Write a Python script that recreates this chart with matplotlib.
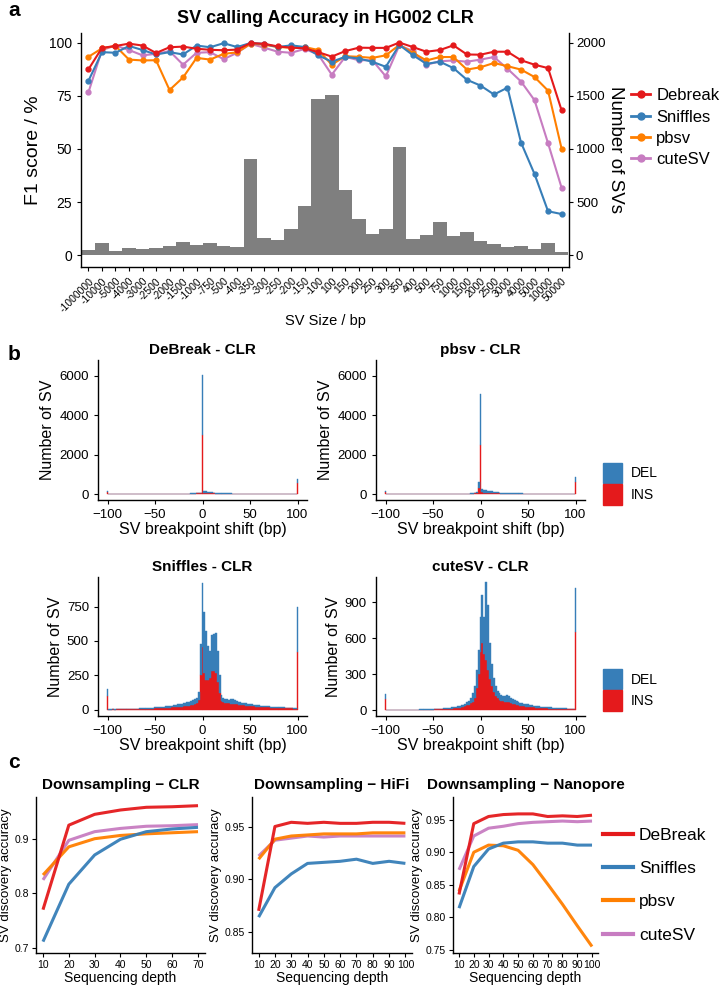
import numpy as np
import matplotlib
matplotlib.use("Agg")
import matplotlib.pyplot as plt
from matplotlib.lines import Line2D
from matplotlib.patches import Patch

plt.rcParams['font.family'] = ['Liberation Sans', 'DejaVu Sans']

W, H = 720, 992

def rect(x0, y0, x1, y1):
    # pixel box (top-left origin) -> figure fraction
    return [x0 / W, 1 - y1 / H, (x1 - x0) / W, (y1 - y0) / H]

RED = '#E41A1C'
BLUE = '#377EB8'
ORANGE = '#FF7F00'
PURPLE = '#C77CC1'

# ---------------- panel a data ----------------
size_labels = ['-1000000', '-10000', '-5000', '-4000', '-3000', '-2500', '-2000', '-1500',
               '-1000', '-750', '-500', '-400', '-350', '-300', '-250', '-200', '-150', '-100',
               '100', '150', '200', '250', '300', '350', '400', '500', '750', '1000', '1500',
               '2000', '2500', '3000', '4000', '5000', '10000', '50000']
sv_counts = [47, 120, 38, 69, 63, 69, 88, 126, 94, 120, 85, 75, 909, 164, 142, 248, 459, 1469,
             1510, 612, 342, 201, 248, 1014, 154, 192, 317, 185, 223, 132, 107, 75, 88, 60, 113, 31]
f1_debreak = [87.4, 97.5, 98.4, 99.5, 98.6, 95.1, 97.8, 98.1, 97.1, 96.6, 96.4, 96.7, 99.8, 99.4,
              98.2, 97.6, 97.3, 95.5, 93.4, 96.0, 97.6, 97.5, 97.5, 100.0, 97.9, 95.7, 96.5, 98.7,
              94.4, 94.3, 95.7, 95.7, 91.7, 89.6, 88.0, 68.2]
f1_sniffles = [82.0, 95.5, 95.2, 98.4, 96.5, 94.4, 95.5, 94.4, 98.6, 97.8, 99.7, 97.9, 99.8, 99.4,
               97.9, 98.7, 97.9, 94.0, 91.0, 93.3, 92.5, 91.0, 88.6, 98.9, 94.1, 90.0, 91.0, 88.0,
               82.5, 79.8, 75.6, 78.8, 53.0, 38.2, 20.7, 19.4]
f1_pbsv = [93.3, 97.3, 98.4, 92.0, 91.6, 91.7, 77.7, 83.6, 92.8, 92.0, 94.7, 95.4, 99.5, 99.0,
           97.9, 97.6, 97.9, 96.5, 89.6, 93.6, 93.3, 92.8, 94.0, 98.9, 95.2, 91.6, 93.2, 93.2,
           87.3, 88.4, 90.4, 88.9, 87.3, 83.8, 77.4, 50.2]
f1_cutesv = [76.6, 96.5, 98.6, 96.5, 94.0, 94.7, 96.0, 89.6, 95.2, 95.5, 92.2, 95.2, 99.4, 97.6,
             95.7, 95.2, 97.0, 94.4, 84.9, 93.3, 91.7, 91.7, 84.1, 98.7, 96.0, 89.6, 91.2, 91.6,
             91.0, 92.0, 93.2, 87.7, 81.7, 72.9, 52.7, 31.8]
tools_a = ['Debreak', 'Sniffles', 'pbsv', 'cuteSV']

# ---------------- panel b data (bins of 2 bp, -100..100) ----------------
shift_bins = np.arange(-100, 101, 2)

debreak_ins = ([110] + [8, 7, 8, 9, 8, 7, 8, 9, 8, 8, 9, 8, 9, 9, 10, 9, 10, 10, 10, 11,
                        10, 11, 11, 12, 11, 12, 12, 13, 13, 12, 13, 14, 14, 13, 14, 15, 15, 16, 16]
               + [17, 18, 20, 22, 25, 28, 32, 38, 45, 55] + [3000]
               + [60, 55, 48, 42, 38, 34, 30, 27, 25, 22]
               + [21, 20, 20, 19, 19, 18, 18, 17, 17, 16, 16, 15, 15, 14, 14, 14, 13, 13, 13, 12,
                  12, 12, 11, 11, 11, 10, 10, 10, 10, 9, 9, 9, 9, 8, 8, 8, 8, 8, 8] + [560])
debreak_del = ([50] + [5, 4, 5, 5, 4, 5, 5, 4, 5, 5, 5, 4, 5, 5, 5, 6, 5, 5, 6, 5,
                       6, 6, 5, 6, 6, 6, 6, 7, 6, 7, 7, 6, 7, 7, 7, 7, 8, 7, 8]
               + [5, 6, 6, 7, 8, 8, 10, 12, 15, 20] + [3050]
               + [100, 95, 85, 70, 55, 45, 38, 30, 25, 20]
               + [18, 17, 16, 15, 15, 14, 13, 13, 12, 12, 11, 11, 10, 10, 10, 9, 9, 9, 8, 8,
                  8, 8, 7, 7, 7, 7, 7, 6, 6, 6, 6, 6, 6, 5, 5, 5, 5, 5, 5] + [220])
pbsv_ins = ([130] + [6, 5, 6, 6, 5, 6, 6, 7, 6, 6, 7, 7, 6, 7, 7, 8, 7, 8, 8, 8,
                     8, 9, 8, 9, 9, 9, 10, 9, 10, 10, 10, 11, 11, 11, 12, 12, 12, 13, 13]
            + [10, 12, 14, 16, 20, 25, 30, 40, 60, 300] + [2480]
            + [90, 80, 75, 70, 65, 60, 50, 45, 40, 35]
            + [32, 30, 29, 28, 27, 26, 25, 24, 23, 22, 21, 20, 19, 18, 18, 17, 16, 16, 15, 15,
               14, 14, 13, 13, 12, 12, 12, 11, 11, 11, 10, 10, 10, 9, 9, 9, 9, 8, 8] + [600])
pbsv_del = ([30] + [4, 3, 4, 4, 3, 4, 4, 4, 3, 4, 4, 4, 4, 5, 4, 4, 5, 4, 5, 5,
                    5, 5, 5, 5, 6, 5, 6, 6, 5, 6, 6, 6, 6, 7, 6, 7, 7, 7, 7]
            + [4, 5, 5, 6, 8, 10, 12, 15, 25, 330] + [2570]
            + [160, 140, 120, 110, 100, 90, 75, 60, 50, 40]
            + [30, 28, 26, 24, 22, 20, 19, 18, 17, 16, 15, 14, 13, 13, 12, 11, 11, 10, 10, 9,
               9, 9, 8, 8, 8, 7, 7, 7, 7, 6, 6, 6, 6, 6, 5, 5, 5, 5, 5] + [280])
sniffles_ins = ([100] + [2, 2, 3, 2, 3, 3, 4, 3, 4, 4, 5, 4, 5, 5, 6, 5, 6, 6, 7]
                + [7, 8, 8, 9, 9, 10, 10, 11, 12, 12]
                + [13, 14, 15, 16, 17, 18, 20, 21, 22, 24]
                + [25, 27, 29, 31, 33, 36, 40, 48, 70, 250] + [455]
                + [270, 220, 215, 230, 280, 285, 270, 200, 120, 65]
                + [55, 50, 48, 46, 45, 44, 42, 40, 38, 36]
                + [34, 32, 30, 28, 27, 26, 25, 24, 23, 22]
                + [21, 20, 19, 18, 17, 16, 16, 15, 14, 14]
                + [13, 12, 12, 11, 11, 10, 10, 9, 9] + [420])
sniffles_del = ([48] + [1, 1, 1, 2, 1, 2, 2, 2, 2, 3, 2, 3, 3, 3, 3, 4, 4, 4, 4]
                + [5, 5, 6, 6, 7, 7, 8, 8, 9, 9]
                + [10, 11, 12, 13, 14, 15, 16, 18, 19, 20]
                + [22, 24, 26, 28, 30, 32, 35, 40, 60, 230] + [470]
                + [440, 350, 250, 195, 260, 265, 285, 225, 135, 45]
                + [30, 28, 27, 26, 30, 35, 30, 25, 22, 20]
                + [18, 17, 16, 15, 15, 14, 13, 12, 12, 11]
                + [10, 10, 9, 9, 8, 8, 8, 7, 7, 7]
                + [6, 6, 6, 5, 5, 5, 5, 4, 4] + [330])
cutesv_ins = ([95] + [1, 1, 1, 1, 1, 1, 1, 2, 1, 2, 2, 2, 2, 2, 2, 3, 2, 3, 3, 3, 3, 3, 4, 4]
              + [4, 5, 5, 6, 6, 7, 8, 9, 10, 11]
              + [12, 14, 16, 18, 20, 23, 27, 32, 38, 45]
              + [55, 70, 100, 180, 300] + [480]
              + [560, 470, 420, 330, 260, 200, 150, 120, 100, 85]
              + [78, 72, 70, 68, 64, 58, 54, 50, 45, 40]
              + [37, 34, 31, 29, 27, 25, 23, 21, 20, 18]
              + [17, 16, 15, 14, 13, 12, 12, 11, 10, 10]
              + [9, 9, 8, 8, 7, 7, 6, 6, 5] + [655])
cutesv_del = ([35] + [0, 1, 0, 1, 1, 1, 1, 1, 1, 1, 1, 1, 1, 1, 2, 1, 2, 2, 2, 2, 2, 2, 2, 3]
              + [3, 3, 4, 4, 5, 5, 6, 6, 7, 8]
              + [9, 10, 11, 12, 14, 16, 18, 21, 25, 30]
              + [45, 70, 100, 150, 200] + [300]
              + [400, 310, 650, 550, 300, 180, 120, 80, 60, 55]
              + [45, 48, 50, 55, 50, 45, 40, 35, 30, 28]
              + [25, 23, 21, 20, 19, 18, 17, 16, 15, 14]
              + [13, 12, 12, 11, 10, 10, 9, 9, 8, 8]
              + [8, 7, 7, 6, 6, 5, 5, 5, 5] + [365])

# ---------------- panel c data ----------------
depth_clr = [10, 20, 30, 40, 50, 60, 70]
clr_debreak = [0.770, 0.926, 0.946, 0.954, 0.959, 0.960, 0.962]
clr_sniffles = [0.711, 0.817, 0.871, 0.900, 0.914, 0.919, 0.922]
clr_pbsv = [0.834, 0.886, 0.901, 0.907, 0.910, 0.912, 0.914]
clr_cutesv = [0.825, 0.898, 0.914, 0.920, 0.924, 0.925, 0.927]

depth_hifi = [10, 20, 30, 40, 50, 60, 70, 80, 90, 100]
hifi_debreak = [0.870, 0.950, 0.954, 0.953, 0.954, 0.953, 0.953, 0.954, 0.954, 0.953]
hifi_sniffles = [0.864, 0.892, 0.905, 0.915, 0.916, 0.917, 0.919, 0.915, 0.917, 0.915]
hifi_pbsv = [0.919, 0.938, 0.941, 0.942, 0.943, 0.943, 0.943, 0.944, 0.944, 0.944]
hifi_cutesv = [0.922, 0.937, 0.939, 0.941, 0.940, 0.941, 0.941, 0.941, 0.941, 0.941]

depth_ont = [10, 20, 30, 40, 50, 60, 70, 80, 90, 100]
ont_debreak = [0.835, 0.944, 0.955, 0.958, 0.959, 0.959, 0.955, 0.956, 0.955, 0.957]
ont_sniffles = [0.814, 0.878, 0.905, 0.914, 0.916, 0.916, 0.914, 0.914, 0.911, 0.911]
ont_pbsv = [0.840, 0.900, 0.911, 0.910, 0.903, 0.881, 0.851, 0.820, 0.787, 0.755]
ont_cutesv = [0.873, 0.925, 0.937, 0.940, 0.944, 0.946, 0.947, 0.948, 0.947, 0.948]
tools_c = ['DeBreak', 'Sniffles', 'pbsv', 'cuteSV']

fig = plt.figure(figsize=(7.2, 9.92), dpi=100)


def classic(ax):
    for s in ['top', 'right']:
        ax.spines[s].set_visible(False)
    for s in ['left', 'bottom']:
        ax.spines[s].set_linewidth(1.0)
    ax.tick_params(length=3, width=0.8, colors='black')


# ================= panel a =================
xa = np.arange(len(size_labels))
ax_bar = fig.add_axes(rect(81, 33, 569, 267))
ax_bar.bar(xa, sv_counts, width=1.0, color='#7F7F7F', linewidth=0)
ax_bar.set_ylim(-110, 2090)
ax_bar.set_xlim(-0.55, 35.55)
ax_bar.yaxis.tick_right()
ax_bar.yaxis.set_label_position('right')
ax_bar.set_yticks([0, 500, 1000, 1500, 2000])
ax_bar.tick_params(axis='y', labelsize=9.5, length=3, width=0.8, pad=2)
ax_bar.set_xticks([])
for s in ['top', 'left', 'bottom']:
    ax_bar.spines[s].set_visible(False)
ax_bar.spines['right'].set_linewidth(1.0)
ax_bar.set_ylabel('Number of SVs', fontsize=13.5, rotation=270, labelpad=13)

ax_a = fig.add_axes(rect(81, 33, 569, 267), facecolor='none')
colors_a = [RED, BLUE, ORANGE, PURPLE]
series_a = [f1_debreak, f1_sniffles, f1_pbsv, f1_cutesv]
for vals, c in zip(series_a[::-1], colors_a[::-1]):
    ax_a.plot(xa, vals, color=c, lw=1.5, marker='o', ms=3.5)
ax_a.set_xlim(-0.55, 35.55)
ax_a.set_ylim(-5.5, 104.5)
ax_a.set_yticks([0, 25, 50, 75, 100])
ax_a.set_xticks(xa)
ax_a.set_xticklabels(size_labels, rotation=45, ha='right', rotation_mode='anchor', fontsize=7.5)
classic(ax_a)
ax_a.tick_params(axis='y', labelsize=10)
ax_a.set_ylabel('F1 score / %', fontsize=14, labelpad=5)
ax_a.set_xlabel('SV Size / bp', fontsize=10.5, labelpad=0)
ax_a.set_title('SV calling Accuracy in HG002 CLR', fontsize=13, fontweight='bold', pad=7)

handles_a = [Line2D([], [], color=c, lw=2, marker='o', ms=5) for c in colors_a]
fig.legend(handles_a, tools_a, loc='upper left', bbox_to_anchor=(628 / W, 1 - 85 / H),
           frameon=False, fontsize=12, handlelength=1.1, labelspacing=0.38,
           handletextpad=0.4, borderaxespad=0, borderpad=0.2)

# ================= panel b =================
def shift_hist(box, ins, dele, title, ylim, yticks):
    ax = fig.add_axes(rect(*box))
    ax.bar(shift_bins, ins, width=2, color=RED, edgecolor=RED, linewidth=0.3)
    ax.bar(shift_bins, dele, width=2, bottom=ins, color=BLUE, edgecolor=BLUE, linewidth=0.3)
    ax.set_xlim(-110, 110)
    ax.set_ylim(*ylim)
    ax.set_xticks([-100, -50, 0, 50, 100])
    ax.set_xticklabels(['\u2212100', '\u221250', '0', '50', '100'])
    ax.set_yticks(yticks)
    classic(ax)
    ax.tick_params(labelsize=9.5)
    ax.set_title(title, fontsize=11, fontweight='bold', pad=4)
    ax.set_ylabel('Number of SV', fontsize=11.5, labelpad=3)
    ax.set_xlabel('SV breakpoint shift (bp)', fontsize=11.5, labelpad=1)
    return ax

shift_hist((98, 360, 307, 500), debreak_ins, debreak_del, 'DeBreak - CLR',
           (-296, 6785), [0, 2000, 4000, 6000])
shift_hist((376, 360, 585, 500), pbsv_ins, pbsv_del, 'pbsv - CLR',
           (-296, 6785), [0, 2000, 4000, 6000])
shift_hist((98, 577, 307, 716), sniffles_ins, sniffles_del, 'Sniffles - CLR',
           (-45, 965), [0, 250, 500, 750])
shift_hist((376, 577, 585, 716), cutesv_ins, cutesv_del, 'cuteSV - CLR',
           (-50, 1110), [0, 300, 600, 900])

for ytop in (460, 666):
    fig.legend([Patch(color=BLUE), Patch(color=RED)], ['DEL', 'INS'], loc='upper left',
               bbox_to_anchor=(600 / W, 1 - ytop / H), frameon=False, fontsize=10,
               handlelength=1.4, handleheight=1.9, labelspacing=0.05, handletextpad=0.6,
               borderaxespad=0, borderpad=0.2)

# ================= panel c =================
def depth_panel(box, depth, series, title, ylim, yticks, yfmt):
    ax = fig.add_axes(rect(*box))
    for vals, c in zip(series[::-1], [RED, BLUE, ORANGE, PURPLE][::-1]):
        ax.plot(depth, vals, color=c, lw=2.2, alpha=0.95, solid_capstyle='butt')
    ax.set_ylim(*ylim)
    span = depth[-1] - depth[0]
    ax.set_xlim(depth[0] - 0.045 * span, depth[-1] + 0.045 * span)
    ax.set_xticks(depth)
    ax.set_yticks(yticks)
    ax.set_yticklabels([yfmt.format(v) for v in yticks])
    classic(ax)
    ax.tick_params(labelsize=7.5, pad=2)
    ax.set_title(title, fontsize=11, fontweight='bold', pad=6)
    ax.set_ylabel('SV discovery accuracy', fontsize=9.5, labelpad=2)
    ax.set_xlabel('Sequencing depth', fontsize=10, labelpad=1)
    return ax

depth_panel((36, 797, 205, 953), depth_clr, [clr_debreak, clr_sniffles, clr_pbsv, clr_cutesv],
            'Downsampling \u2212 CLR', (0.69, 0.978), [0.7, 0.8, 0.9], '{:.1f}')
depth_panel((252, 797, 412, 953), depth_hifi, [hifi_debreak, hifi_sniffles, hifi_pbsv, hifi_cutesv],
            'Downsampling \u2212 HiFi', (0.83, 0.978), [0.85, 0.90, 0.95], '{:.2f}')
depth_panel((453, 797, 598, 953), depth_ont, [ont_debreak, ont_sniffles, ont_pbsv, ont_cutesv],
            'Downsampling \u2212 Nanopore', (0.745, 0.985), [0.75, 0.80, 0.85, 0.90, 0.95], '{:.2f}')

handles_c = [Line2D([], [], color=c, lw=3) for c in [RED, BLUE, ORANGE, PURPLE]]
fig.legend(handles_c, tools_c, loc='upper left', bbox_to_anchor=(600 / W, 1 - 824 / H),
           frameon=False, fontsize=12.5, handlelength=1.7, labelspacing=1.05,
           handletextpad=0.35, borderaxespad=0, borderpad=0.2)

# panel letters
for lab, y in (('a', 10), ('b', 354), ('c', 762)):
    fig.text(8 / W, 1 - y / H, lab, fontsize=15, fontweight='bold', va='center', ha='left')

fig.savefig('out.png', dpi=100)
